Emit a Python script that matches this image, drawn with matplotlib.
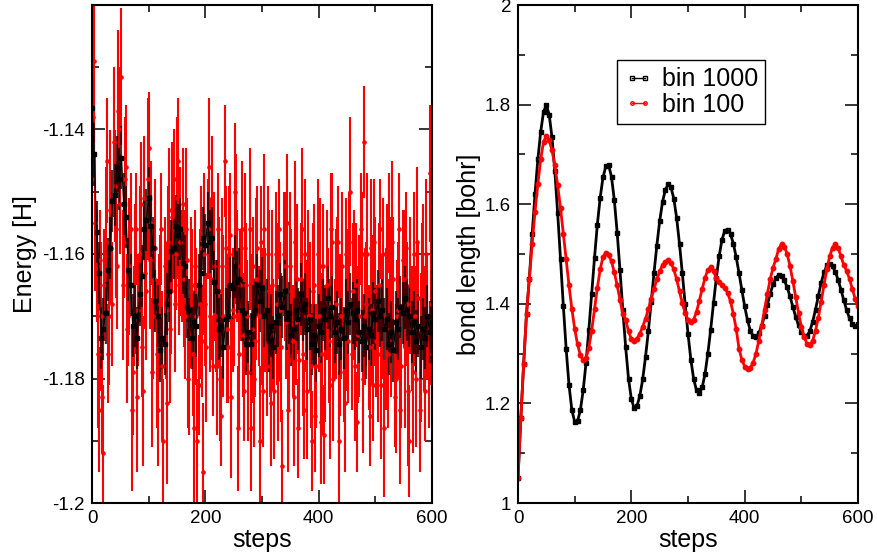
import matplotlib
matplotlib.use('Agg')
import matplotlib.pyplot as plt
from matplotlib.lines import Line2D
from matplotlib.ticker import MultipleLocator, FormatStrFormatter

plt.rcParams['font.family'] = ['Liberation Sans', 'DejaVu Sans']

# left panel: energy
# bin 1000: one point every 4 steps
steps_bin1000 = list(range(0, 601, 4))
energy_bin1000 = [
    -1.1365, -1.1440, -1.1565, -1.1630, -1.1735, -1.1720, -1.1695, -1.1625, -1.1590, -1.1515,
    -1.1505, -1.1460, -1.1480, -1.1445, -1.1520, -1.1540, -1.1625, -1.1650, -1.1715, -1.1700,
    -1.1735, -1.1665, -1.1635, -1.1560, -1.1545, -1.1510, -1.1555, -1.1590, -1.1675, -1.1700,
    -1.1755, -1.1735, -1.1745, -1.1680, -1.1660, -1.1595, -1.1590, -1.1555, -1.1570, -1.1560,
    -1.1615, -1.1620, -1.1685, -1.1690, -1.1735, -1.1710, -1.1715, -1.1650, -1.1630, -1.1575,
    -1.1585, -1.1550, -1.1580, -1.1575, -1.1645, -1.1660, -1.1720, -1.1715, -1.1750, -1.1705,
    -1.1700, -1.1650, -1.1655, -1.1620, -1.1645, -1.1640, -1.1690, -1.1695, -1.1745, -1.1725,
    -1.1745, -1.1700, -1.1690, -1.1650, -1.1675, -1.1655, -1.1700, -1.1690, -1.1740, -1.1715,
    -1.1750, -1.1710, -1.1700, -1.1665, -1.1685, -1.1660, -1.1705, -1.1695, -1.1730, -1.1720,
    -1.1690, -1.1705, -1.1665, -1.1690, -1.1680, -1.1720, -1.1705, -1.1745, -1.1730, -1.1755,
    -1.1715, -1.1725, -1.1690, -1.1705, -1.1670, -1.1700, -1.1685, -1.1725, -1.1710, -1.1745,
    -1.1720, -1.1735, -1.1690, -1.1710, -1.1680, -1.1695, -1.1705, -1.1690, -1.1725, -1.1740,
    -1.1715, -1.1750, -1.1720, -1.1730, -1.1695, -1.1705, -1.1675, -1.1700, -1.1690, -1.1720,
    -1.1705, -1.1745, -1.1725, -1.1755, -1.1710, -1.1720, -1.1685, -1.1695, -1.1670, -1.1690,
    -1.1700, -1.1725, -1.1710, -1.1740, -1.1715, -1.1750, -1.1720, -1.1735, -1.1700, -1.1725,
    -1.1710,
]
err_bin1000 = 0.005

# bin 100: one point every 2 steps
steps_bin100 = list(range(0, 601, 2))
energy_bin100 = [
    -1.1480, -1.1380, -1.1290, -1.1550, -1.1620, -1.1760, -1.1850, -1.1610, -1.1700, -1.1830,
    -1.1920, -1.1650, -1.1580, -1.1450, -1.1760, -1.1700, -1.1530, -1.1590, -1.1680, -1.1420,
    -1.1490, -1.1560, -1.1620, -1.1370, -1.1400, -1.1520, -1.1315, -1.1650, -1.1580, -1.1480,
    -1.1460, -1.1720, -1.1700, -1.1620, -1.1560, -1.1850, -1.1790, -1.1700, -1.1640, -1.1560,
    -1.1830, -1.1690, -1.1600, -1.1520, -1.1750, -1.1820, -1.1510, -1.1630, -1.1660, -1.1480,
    -1.1430, -1.1610, -1.1550, -1.1790, -1.1700, -1.1640, -1.1590, -1.1760, -1.1850, -1.1700,
    -1.1680, -1.1560, -1.1780, -1.1900, -1.1620, -1.1690, -1.1840, -1.1580, -1.1530, -1.1720,
    -1.1660, -1.1540, -1.1480, -1.1680, -1.1600, -1.1510, -1.1450, -1.1650, -1.1580, -1.1620,
    -1.1520, -1.1640, -1.1700, -1.1560, -1.1610, -1.1800, -1.1780, -1.1660, -1.1650, -1.1760,
    -1.1880, -1.1620, -1.1700, -1.1900, -1.1810, -1.1680, -1.1590, -1.1740, -1.1950, -1.1600,
    -1.1680, -1.1750, -1.1560, -1.1460, -1.1700, -1.1640, -1.1510, -1.1780, -1.1620, -1.1700,
    -1.1780, -1.1560, -1.1660, -1.1800, -1.1860, -1.1620, -1.1700, -1.1450, -1.1590, -1.1720,
    -1.1750, -1.1600, -1.1570, -1.1830, -1.1690, -1.1700, -1.1500, -1.1560, -1.1620, -1.1880,
    -1.1760, -1.1650, -1.1560, -1.1730, -1.1820, -1.1590, -1.1650, -1.1700, -1.1790, -1.1560,
    -1.1880, -1.1720, -1.1620, -1.1800, -1.1740, -1.1640, -1.1590, -1.1700, -1.1900, -1.1580,
    -1.1700, -1.1820, -1.1560, -1.1690, -1.1780, -1.1600, -1.1660, -1.1740, -1.1840, -1.1650,
    -1.1730, -1.1820, -1.1600, -1.1680, -1.1800, -1.1560, -1.1690, -1.1750, -1.1940, -1.1600,
    -1.1620, -1.1710, -1.1550, -1.1850, -1.1770, -1.1620, -1.1660, -1.1740, -1.1830, -1.1580,
    -1.1710, -1.1640, -1.1880, -1.1770, -1.1640, -1.1560, -1.1760, -1.1850, -1.1600, -1.1700,
    -1.1820, -1.1620, -1.1700, -1.1780, -1.1900, -1.1660, -1.1650, -1.1860, -1.1780, -1.1600,
    -1.1700, -1.1620, -1.1870, -1.1760, -1.1620, -1.1890, -1.1760, -1.1650, -1.1680, -1.1740,
    -1.1810, -1.1560, -1.1580, -1.1800, -1.1720, -1.1680, -1.1640, -1.1580, -1.1900, -1.1730,
    -1.1700, -1.1620, -1.1790, -1.1840, -1.1600, -1.1690, -1.1740, -1.1580, -1.1500, -1.1760,
    -1.1660, -1.1620, -1.1780, -1.1650, -1.1870, -1.1730, -1.1700, -1.1560, -1.1600, -1.1800,
    -1.1420, -1.1700, -1.1680, -1.1600, -1.1750, -1.1860, -1.1590, -1.1690, -1.1810, -1.1580,
    -1.1660, -1.1740, -1.1760, -1.1650, -1.1560, -1.1810, -1.1700, -1.1600, -1.1880, -1.1720,
    -1.1620, -1.1760, -1.1550, -1.1650, -1.1740, -1.1580, -1.1640, -1.1830, -1.1800, -1.1700,
    -1.1690, -1.1560, -1.1850, -1.1780, -1.1610, -1.1640, -1.1750, -1.1590, -1.1680, -1.1820,
    -1.1900, -1.1650, -1.1720, -1.1790, -1.1600, -1.1700, -1.1800, -1.1580, -1.1670, -1.1850,
    -1.1750, -1.1640, -1.1630, -1.1720, -1.1820, -1.1600, -1.1700, -1.1790, -1.1470, -1.1680,
    -1.1760,
]
err_bin100 = [
    0.012, 0.010, 0.013, 0.011, 0.009, 0.012, 0.010, 0.008, 0.012, 0.009,
    0.011, 0.009, 0.012, 0.010, 0.008, 0.011, 0.013, 0.009, 0.010, 0.012,
    0.009, 0.011, 0.010, 0.013, 0.010, 0.008, 0.011, 0.012, 0.009, 0.010,
    0.010, 0.012, 0.008, 0.011, 0.009, 0.013, 0.010, 0.008, 0.012, 0.009,
    0.012, 0.009, 0.011, 0.010, 0.008, 0.012, 0.010, 0.009, 0.011, 0.013,
    0.009, 0.011, 0.010, 0.012, 0.010, 0.008, 0.011, 0.012, 0.009, 0.010,
    0.011, 0.009, 0.012, 0.010, 0.008, 0.011, 0.013, 0.009, 0.010, 0.012,
    0.010, 0.012, 0.008, 0.011, 0.009, 0.013, 0.010, 0.008, 0.012, 0.009,
    0.009, 0.011, 0.010, 0.013, 0.010, 0.008, 0.011, 0.012, 0.009, 0.010,
    0.012, 0.009, 0.011, 0.010, 0.008, 0.012, 0.010, 0.009, 0.011, 0.013,
    0.010, 0.012, 0.008, 0.011, 0.009, 0.013, 0.010, 0.008, 0.012, 0.009,
    0.011, 0.009, 0.012, 0.010, 0.008, 0.011, 0.013, 0.009, 0.010, 0.012,
    0.009, 0.011, 0.010, 0.013, 0.010, 0.008, 0.011, 0.012, 0.009, 0.010,
    0.012, 0.009, 0.011, 0.010, 0.008, 0.012, 0.010, 0.009, 0.011, 0.013,
    0.010, 0.012, 0.008, 0.011, 0.009, 0.013, 0.010, 0.008, 0.012, 0.009,
    0.011, 0.009, 0.012, 0.010, 0.008, 0.011, 0.013, 0.009, 0.010, 0.012,
    0.009, 0.011, 0.010, 0.013, 0.010, 0.008, 0.011, 0.012, 0.009, 0.010,
    0.012, 0.009, 0.011, 0.010, 0.008, 0.012, 0.010, 0.009, 0.011, 0.013,
    0.010, 0.012, 0.008, 0.011, 0.009, 0.013, 0.010, 0.008, 0.012, 0.009,
    0.011, 0.009, 0.012, 0.010, 0.008, 0.011, 0.013, 0.009, 0.010, 0.012,
    0.009, 0.011, 0.010, 0.013, 0.010, 0.008, 0.011, 0.012, 0.009, 0.010,
    0.012, 0.009, 0.011, 0.010, 0.008, 0.012, 0.010, 0.009, 0.011, 0.013,
    0.010, 0.012, 0.008, 0.011, 0.009, 0.013, 0.010, 0.008, 0.012, 0.009,
    0.011, 0.009, 0.012, 0.010, 0.008, 0.011, 0.013, 0.009, 0.010, 0.012,
    0.009, 0.011, 0.010, 0.013, 0.010, 0.008, 0.011, 0.012, 0.009, 0.010,
    0.012, 0.009, 0.011, 0.010, 0.008, 0.012, 0.010, 0.009, 0.011, 0.013,
    0.010, 0.012, 0.008, 0.011, 0.009, 0.013, 0.010, 0.008, 0.012, 0.009,
    0.011, 0.009, 0.012, 0.010, 0.008, 0.011, 0.013, 0.009, 0.010, 0.012,
    0.009, 0.011, 0.010, 0.013, 0.010, 0.008, 0.011, 0.012, 0.009, 0.010,
    0.012, 0.009, 0.011, 0.010, 0.008, 0.012, 0.010, 0.009, 0.011, 0.013,
    0.010,
]

# right panel: bond length, one point every 5 steps
bond_steps = list(range(0, 601, 5))
bond_bin1000 = [
    1.050, 1.170, 1.280, 1.380, 1.450, 1.540, 1.620, 1.690, 1.745, 1.785,
    1.799, 1.780, 1.734, 1.666, 1.582, 1.490, 1.396, 1.309, 1.237, 1.187,
    1.163, 1.164, 1.186, 1.226, 1.281, 1.348, 1.420, 1.492, 1.559, 1.613,
    1.654, 1.676, 1.678, 1.655, 1.608, 1.543, 1.467, 1.387, 1.313, 1.250,
    1.209, 1.190, 1.195, 1.215, 1.248, 1.293, 1.345, 1.403, 1.462, 1.517,
    1.566, 1.604, 1.629, 1.640, 1.634, 1.611, 1.572, 1.520, 1.461, 1.399,
    1.340, 1.288, 1.249, 1.226, 1.220, 1.232, 1.259, 1.300, 1.348, 1.401,
    1.452, 1.496, 1.529, 1.547, 1.549, 1.540, 1.521, 1.494, 1.462, 1.428,
    1.395, 1.367, 1.346, 1.335, 1.334, 1.341, 1.356, 1.375, 1.398, 1.420,
    1.439, 1.452, 1.458, 1.456, 1.447, 1.433, 1.415, 1.394, 1.374, 1.357,
    1.344, 1.336, 1.336, 1.345, 1.364, 1.388, 1.416, 1.442, 1.463, 1.477,
    1.480, 1.475, 1.464, 1.448, 1.428, 1.407, 1.387, 1.371, 1.360, 1.355,
    1.360,
]
bond_bin100 = [
    1.050, 1.170, 1.280, 1.380, 1.450, 1.520, 1.585, 1.640, 1.690, 1.725,
    1.737, 1.728, 1.708, 1.678, 1.638, 1.592, 1.541, 1.489, 1.437, 1.390,
    1.350, 1.319, 1.297, 1.287, 1.291, 1.312, 1.346, 1.389, 1.432, 1.469,
    1.494, 1.503, 1.498, 1.485, 1.463, 1.437, 1.408, 1.380, 1.368, 1.345,
    1.329, 1.325, 1.330, 1.340, 1.354, 1.370, 1.389, 1.410, 1.430, 1.449,
    1.465, 1.477, 1.484, 1.487, 1.482, 1.469, 1.449, 1.425, 1.401, 1.381,
    1.368, 1.363, 1.368, 1.384, 1.406, 1.430, 1.452, 1.468, 1.473, 1.465,
    1.452, 1.443, 1.437, 1.431, 1.422, 1.405, 1.380, 1.350, 1.310, 1.288,
    1.274, 1.270, 1.271, 1.282, 1.300, 1.326, 1.356, 1.388, 1.420, 1.449,
    1.472, 1.490, 1.510, 1.520, 1.515, 1.500, 1.476, 1.446, 1.414, 1.382,
    1.354, 1.333, 1.320, 1.318, 1.326, 1.346, 1.372, 1.404, 1.438, 1.470,
    1.495, 1.513, 1.520, 1.512, 1.495, 1.478, 1.466, 1.450, 1.430, 1.410,
    1.395,
]


def style_axes(ax):
    ax.tick_params(which='both', direction='in', top=True, right=True,
                   labelsize=13.5, width=1.1, pad=5)
    ax.tick_params(which='major', length=9.5)
    ax.tick_params(which='minor', length=5)
    for s in ax.spines.values():
        s.set_linewidth(1.5)
    ax.xaxis.set_major_locator(MultipleLocator(200))
    ax.xaxis.set_minor_locator(MultipleLocator(100))
    ax.set_xlim(0, 600)


fig = plt.figure(figsize=(8.77, 5.6), dpi=100)
ax1 = fig.add_axes([92 / 877, 57 / 560, 340 / 877, 498 / 560])
ax2 = fig.add_axes([518 / 877, 57 / 560, 340 / 877, 498 / 560])

# energy with error bars
ax1.errorbar(steps_bin100, energy_bin100, yerr=err_bin100, fmt='o', color='red',
             ms=2.3, elinewidth=1.5, capsize=0)
ax1.errorbar(steps_bin1000, energy_bin1000, yerr=err_bin1000, fmt='-s', color='black',
             lw=0.9, ms=2.5, elinewidth=1.6, capsize=0, ecolor=(0.1, 0, 0, 0.8))
style_axes(ax1)
ax1.set_ylim(-1.2, -1.12)
ax1.set_yticks([-1.2, -1.18, -1.16, -1.14])
ax1.yaxis.set_minor_locator(MultipleLocator(0.01))
ax1.yaxis.set_major_formatter(FormatStrFormatter('%g'))
ax1.set_xlabel('steps', fontsize=18, labelpad=1)
ax1.set_ylabel('Energy [H]', fontsize=18, labelpad=4)

# bond length
ax2.plot(bond_steps, bond_bin1000, '-s', color='black', lw=2.0, ms=3.2)
ax2.plot(bond_steps, bond_bin100, '-o', color='red', lw=2.0, ms=3.2)
style_axes(ax2)
ax2.set_ylim(1, 2)
ax2.yaxis.set_major_locator(MultipleLocator(0.2))
ax2.yaxis.set_minor_locator(MultipleLocator(0.1))
ax2.yaxis.set_major_formatter(FormatStrFormatter('%g'))
ax2.set_xlabel('steps', fontsize=18, labelpad=1)
ax2.set_ylabel('bond length [bohr]', fontsize=18, labelpad=3)

handles = [
    Line2D([], [], color='black', lw=1.0, marker='s', ms=2.5, mfc='none', mew=1.0),
    Line2D([], [], color='red', lw=1.0, marker='o', ms=2.5, mfc='none', mew=1.0),
]
leg = ax2.legend(handles, ['bin 1000', 'bin 100'], loc='upper left',
                 bbox_to_anchor=(0.29, 0.89), fontsize=18, fancybox=False,
                 edgecolor='black', framealpha=1, borderaxespad=0,
                 handlelength=1.15, handletextpad=0.35, labelspacing=0.05,
                 borderpad=0.3, numpoints=2)
leg.get_frame().set_linewidth(1.0)

fig.savefig('out.png', dpi=100)
